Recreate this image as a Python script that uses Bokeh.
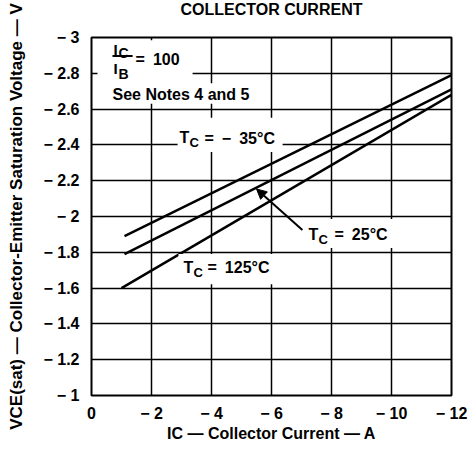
from bokeh.plotting import figure
from bokeh.models import Range1d, FixedTicker, Label, BoxAnnotation, Arrow, NormalHead, Title
from bokeh.embed import file_html
from bokeh.resources import INLINE

# ---- data ----
ic_m35 = [-1.1, -12.0]
vce_m35 = [-1.89, -2.79]
ic_25 = [-1.1, -12.0]
vce_25 = [-1.79, -2.71]
ic_125 = [-1.0, -12.0]
vce_125 = [-1.60, -2.68]

x_ticks = [0, -2, -4, -6, -8, -10, -12]
x_tick_labels = ["0", "\u2212 2", "\u2212 4", "\u2212 6", "\u2212 8", "\u2212 10", "\u2212 12"]
y_ticks = [-1, -1.2, -1.4, -1.6, -1.8, -2, -2.2, -2.4, -2.6, -2.8, -3]
y_tick_labels = ["\u2212 1", "\u2212 1.2", "\u2212 1.4", "\u2212 1.6", "\u2212 1.8", "\u2212 2",
                 "\u2212 2.2", "\u2212 2.4", "\u2212 2.6", "\u2212 2.8", "\u2212 3"]

FONT = "Liberation Sans"

p = figure(width=469, height=449, x_range=Range1d(0, -12), y_range=Range1d(-1, -3),
           output_backend="svg", toolbar_location=None, title=None,
           min_border_left=91, min_border_right=18, min_border_top=0, min_border_bottom=54)
p.background_fill_color = "white"
p.border_fill_color = "white"
p.outline_line_color = "black"
p.outline_line_width = 2

# spacer (closest to the frame) and the title above it
p.add_layout(Title(text=" ", text_font=FONT, text_font_size="14px", standoff=0), "above")
p.add_layout(Title(text="COLLECTOR CURRENT", align="center", vertical_align="top", standoff=0,
                   text_font=FONT, text_font_style="bold", text_font_size="16px",
                   text_color="black"), "above")

for ax, ticks, labels in ((p.xaxis, x_ticks, x_tick_labels), (p.yaxis, y_ticks, y_tick_labels)):
    ax.ticker = FixedTicker(ticks=ticks)
    ax.major_label_overrides = dict(zip(ticks, labels))
    ax.axis_line_color = None
    ax.major_tick_line_color = None
    ax.minor_tick_line_color = None
    ax.major_label_text_font = FONT
    ax.major_label_text_font_style = "bold"
    ax.major_label_text_font_size = "16px"
    ax.major_label_text_color = "black"
    ax.axis_label_text_font = FONT
    ax.axis_label_text_font_style = "bold"
    ax.axis_label_text_color = "black"

p.xaxis.major_label_standoff = 3
p.yaxis.major_label_standoff = 6
p.xaxis.axis_label = "IC \u2014 Collector Current \u2014 A"
p.yaxis.axis_label = "VCE(sat) \u2014 Collector-Emitter Saturation Voltage \u2014 V"
p.xaxis.axis_label_text_font_size = "16px"
p.yaxis.axis_label_text_font_size = "17px"
p.xaxis.axis_label_standoff = 0
p.yaxis.axis_label_standoff = 14

p.xgrid.ticker = FixedTicker(ticks=x_ticks)
p.ygrid.ticker = FixedTicker(ticks=y_ticks)
p.xgrid.bounds = (min(x_ticks), max(x_ticks))
p.ygrid.bounds = (min(y_ticks), max(y_ticks))
for g in (p.xgrid, p.ygrid):
    g.grid_line_color = "black"
    g.grid_line_width = 1.5
    g.grid_line_alpha = 1.0

# curves
for xs, ys in ((ic_m35, vce_m35), (ic_25, vce_25), (ic_125, vce_125)):
    p.line(xs, ys, line_color="black", line_width=2.5)

# white boxes behind texts (cover the grid)
def box(l, r, t, b):
    p.add_layout(BoxAnnotation(left=l, right=r, top=t, bottom=b, fill_color="white",
                               fill_alpha=1.0, line_color=None, level="annotation"))

box(-0.2, -3.37, -2.985, -2.735)   # IC/IB = 100
box(-0.2, -5.45, -2.745, -2.63)    # See Notes
box(-2.87, -6.37, -2.552, -2.361)  # -35
box(-6.97, -10.1, -1.986, -1.824)  # 25
box(-2.9, -6.3, -1.79, -1.622)     # 125

DY = -0.03  # small upward nudge for all annotation texts

def txt(x, y, s, size=16, align="left"):
    p.add_layout(Label(x=x, y=y + DY, text=s, text_font=FONT, text_font_style="bold",
                       text_font_size=f"{size}px", text_color="black",
                       text_align=align, text_baseline="alphabetic"))

EN = "\u2002"
# IC / IB = 100
txt(-0.73, -2.905, "I", 15)
txt(-0.90, -2.882, "C", 14)
p.add_layout(Arrow(start=None, end=None, x_start=-0.70, y_start=-2.866 + DY, x_end=-1.37,
                   y_end=-2.866 + DY, line_color="black", line_width=2))
txt(-0.73, -2.798, "I", 15)
txt(-0.90, -2.765, "B", 14)
txt(-1.47, -2.849, "=" + EN + "100", 16)
txt(-0.70, -2.653, "See Notes 4 and 5", 16)

# temperature labels
txt(-2.933, -2.412, "T", 16)
txt(-3.267, -2.384, "C", 13)
txt(-3.767, -2.406, "=" + EN + "\u2212" + EN + "35\u00b0C", 16)

txt(-7.233, -1.868, "T", 16)
txt(-7.567, -1.840, "C", 13)
txt(-8.10, -1.868, "=" + EN + "25\u00b0C", 16)

txt(-3.067, -1.683, "T", 16)
txt(-3.40, -1.655, "C", 13)
txt(-3.867, -1.683, "=" + EN + "125\u00b0C", 16)

# arrow pointing at the 25 C curve
p.add_layout(Arrow(x_start=-7.03, y_start=-1.924, x_end=-5.5, y_end=-2.154,
                   line_color="black", line_width=2,
                   end=NormalHead(size=10, fill_color="black", line_color="black")))

open("out.html", "w").write(file_html(p, INLINE))
